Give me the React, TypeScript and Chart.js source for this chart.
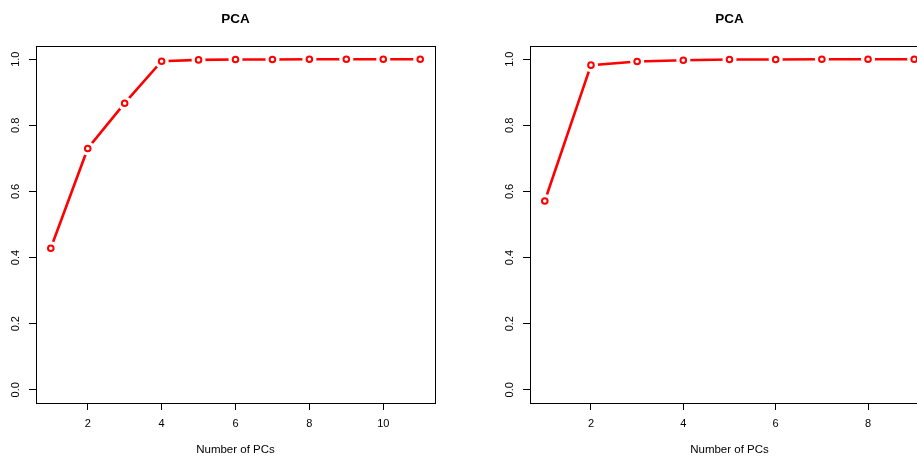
import React, { useEffect, useRef } from "react";
import { Chart, registerables } from "chart.js";

Chart.register(...registerables);

// ---- data ----
const pcsLeft = [1, 2, 3, 4, 5, 6, 7, 8, 9, 10, 11];
const varLeft = [0.428, 0.73, 0.867, 0.994, 0.998, 0.999, 0.999, 1.0, 1.0, 1.0, 1.0];
const pcsRight = [1, 2, 3, 4, 5, 6, 7, 8, 9];
const varRight = [0.571, 0.982, 0.993, 0.997, 0.999, 0.999, 1.0, 1.0, 1.0];
const xTicksLeft = [2, 4, 6, 8, 10];
const xTicksRight = [2, 4, 6, 8];
const yTicks = [0, 0.2, 0.4, 0.6, 0.8, 1.0];
const titleText = "PCA";
const xTitleText = "Number of PCs";

const FONT = "'Liberation Sans', Arial, Helvetica, sans-serif";
const PANEL_W = 493;
const PANEL_H = 457;

const boxPlugin = {
  id: "rbox",
  beforeDatasetsDraw(chart: any) {
    const { ctx, chartArea: a } = chart;
    ctx.save();
    ctx.strokeStyle = "#000";
    ctx.lineWidth = 1;
    ctx.strokeRect(
      Math.round(a.left) + 0.5,
      Math.round(a.top) + 0.5,
      Math.round(a.right - a.left),
      Math.round(a.bottom - a.top)
    );
    ctx.restore();
  },
};

function Panel({ xs, ys, xTicks, left }: { xs: number[]; ys: number[]; xTicks: number[]; left: number }) {
  const ref = useRef<HTMLCanvasElement | null>(null);
  useEffect(() => {
    if (!ref.current) return;
    const pts = xs.map((x, i) => ({ x, y: ys[i] }));
    const n = xs.length;
    const xmin = xs[0] - 0.04 * (xs[n - 1] - xs[0]);
    const xmax = xs[n - 1] + 0.04 * (xs[n - 1] - xs[0]);
    const chart = new Chart(ref.current, {
      type: "line",
      data: {
        datasets: [
          { data: pts, showLine: false, pointRadius: 2.8, pointBorderWidth: 2, pointBorderColor: "#ff0000", pointBackgroundColor: "#ffffff", order: 0 },
          { data: pts, borderColor: "#ff0000", borderWidth: 2.6, pointRadius: 7, pointBorderWidth: 0, pointBackgroundColor: "#ffffff", pointBorderColor: "#ffffff", tension: 0, fill: false, order: 1 },
        ],
      },
      options: {
        animation: false,
        responsive: false,
        devicePixelRatio: 1,
        events: [],
        layout: { padding: { left: 0, top: 0, bottom: 0, right: 58 } },
        plugins: {
          legend: { display: false },
          tooltip: { enabled: false },
          title: { display: true, text: titleText, fullSize: false, color: "#000", font: { family: FONT, size: 13.5, weight: "bold", lineHeight: 1.2 }, padding: { top: 11.4, bottom: 18.4 } },
        },
        scales: {
          x: {
            type: "linear",
            min: xmin,
            max: xmax,
            afterBuildTicks: (s: any) => { s.ticks = xTicks.map((v) => ({ value: v })); },
            afterFit: (s: any) => { s.height = 54; },
            grid: { drawOnChartArea: false, drawTicks: true, tickLength: 7, tickColor: "#000", tickWidth: 1 },
            border: { display: true, color: "#000", width: 1 },
            ticks: { color: "#000", font: { family: FONT, size: 11 }, padding: 7.5, maxRotation: 0, autoSkip: false, callback: (v: any) => String(v) },
            title: { display: true, text: xTitleText, color: "#000", font: { family: FONT, size: 11.5 }, padding: { top: 0, bottom: 0 } },
          },
          y: {
            type: "linear",
            min: -0.04,
            max: 1.04,
            afterBuildTicks: (s: any) => { s.ticks = yTicks.map((v) => ({ value: v })); },
            afterFit: (s: any) => { s.width = 36; },
            grid: { drawOnChartArea: false, drawTicks: true, tickLength: 7, tickColor: "#000", tickWidth: 1 },
            border: { display: true, color: "#000", width: 1 },
            ticks: { color: "#000", font: { family: FONT, size: 11 }, padding: 5, minRotation: 90, maxRotation: 90, crossAlign: "center", autoSkip: false, callback: (v: any) => Number(v).toFixed(1) },
          },
        },
      },
      plugins: [boxPlugin],
    } as any);
    return () => chart.destroy();
  }, [xs, ys, xTicks]);
  return (
    <div style={{ position: "absolute", left, top: 0, width: PANEL_W, height: PANEL_H }}>
      <canvas ref={ref} width={PANEL_W} height={PANEL_H} style={{ display: "block" }} />
    </div>
  );
}

export default function App() {
  return (
    <div style={{ position: "fixed", left: 0, top: 0, width: 917, height: 457, overflow: "hidden", background: "#fff" }}>
      <Panel xs={pcsLeft} ys={varLeft} xTicks={xTicksLeft} left={0} />
      <Panel xs={pcsRight} ys={varRight} xTicks={xTicksRight} left={494} />
    </div>
  );
}
